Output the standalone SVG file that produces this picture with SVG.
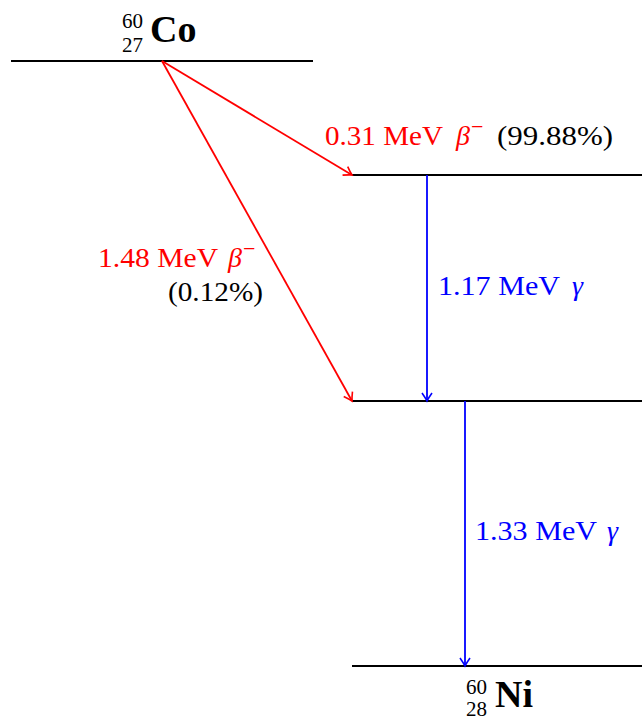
<svg xmlns="http://www.w3.org/2000/svg" width="642" height="717" viewBox="0 0 642 717">
<style>
.lvl{stroke:#000;stroke-width:2.2;fill:none}
.red{stroke:#ff0000;stroke-width:1.8;fill:none}
.blue{stroke:#0000ff;stroke-width:1.8;fill:none}
text{font-family:"Liberation Serif","DejaVu Serif",serif;font-size:28px}
.r{fill:#ff0000}.b{fill:#0000ff}.k{fill:#000}
.it{font-style:italic}
.nuc{font-weight:bold;font-size:38px}
.idx{font-size:21px}
.sup{font-size:22px}
</style>
<defs>
<marker id="ar" viewBox="-10 -6 12 12" refX="0" refY="0" markerWidth="12" markerHeight="12" markerUnits="userSpaceOnUse" orient="auto">
<path d="M -8,-5 Q -3,-1.5 0,0 Q -3,1.5 -8,5" fill="none" stroke="#ff0000" stroke-width="1.6"/>
</marker>
<marker id="ab" viewBox="-10 -6 12 12" refX="0" refY="0" markerWidth="12" markerHeight="12" markerUnits="userSpaceOnUse" orient="auto">
<path d="M -8,-5 Q -3,-1.5 0,0 Q -3,1.5 -8,5" fill="none" stroke="#0000ff" stroke-width="1.6"/>
</marker>
</defs>
<g id="co">
<line class="lvl" x1="11" y1="61" x2="313" y2="61"/>
<text class="idx" x="122" y="28">60</text>
<text class="idx" x="122" y="52">27</text>
<text class="nuc" x="150" y="42">Co</text>
</g>
<g id="level1">
<line class="lvl" x1="352" y1="175" x2="642" y2="175"/>
</g>
<g id="level2">
<line class="lvl" x1="352" y1="401" x2="642" y2="401"/>
</g>
<g id="ni">
<line class="lvl" x1="352" y1="666" x2="642" y2="666"/>
<text class="idx" x="466" y="694">60</text>
<text class="idx" x="466" y="716">28</text>
<text class="nuc" x="495" y="707">Ni</text>
</g>
<g id="connectors">
<line class="red" x1="162" y1="61" x2="352" y2="175" marker-end="url(#ar)"/>
<line class="red" x1="162" y1="61" x2="352" y2="401" marker-end="url(#ar)"/>
<line class="blue" x1="427" y1="175" x2="427" y2="401" marker-end="url(#ab)"/>
<line class="blue" x1="465" y1="401" x2="465" y2="666" marker-end="url(#ab)"/>
</g>
<g id="labels">
<text class="r" x="325" y="145" textLength="118" lengthAdjust="spacingAndGlyphs">0.31 MeV</text>
<text class="r it" x="456" y="145">β</text>
<text class="r sup" x="471" y="134">−</text>
<text class="k" x="497" y="145" textLength="116" lengthAdjust="spacingAndGlyphs">(99.88%)</text>
<text class="r" x="98" y="267" textLength="120" lengthAdjust="spacingAndGlyphs">1.48 MeV</text>
<text class="r it" x="228" y="267">β</text>
<text class="r sup" x="243" y="256">−</text>
<text class="k" x="168" y="301" textLength="95" lengthAdjust="spacingAndGlyphs">(0.12%)</text>
<text class="b" x="438" y="295" textLength="122" lengthAdjust="spacingAndGlyphs">1.17 MeV</text>
<text class="b it" x="572" y="295">γ</text>
<text class="b" x="475" y="540" textLength="122" lengthAdjust="spacingAndGlyphs">1.33 MeV</text>
<text class="b it" x="607" y="540">γ</text>
</g>
</svg>
